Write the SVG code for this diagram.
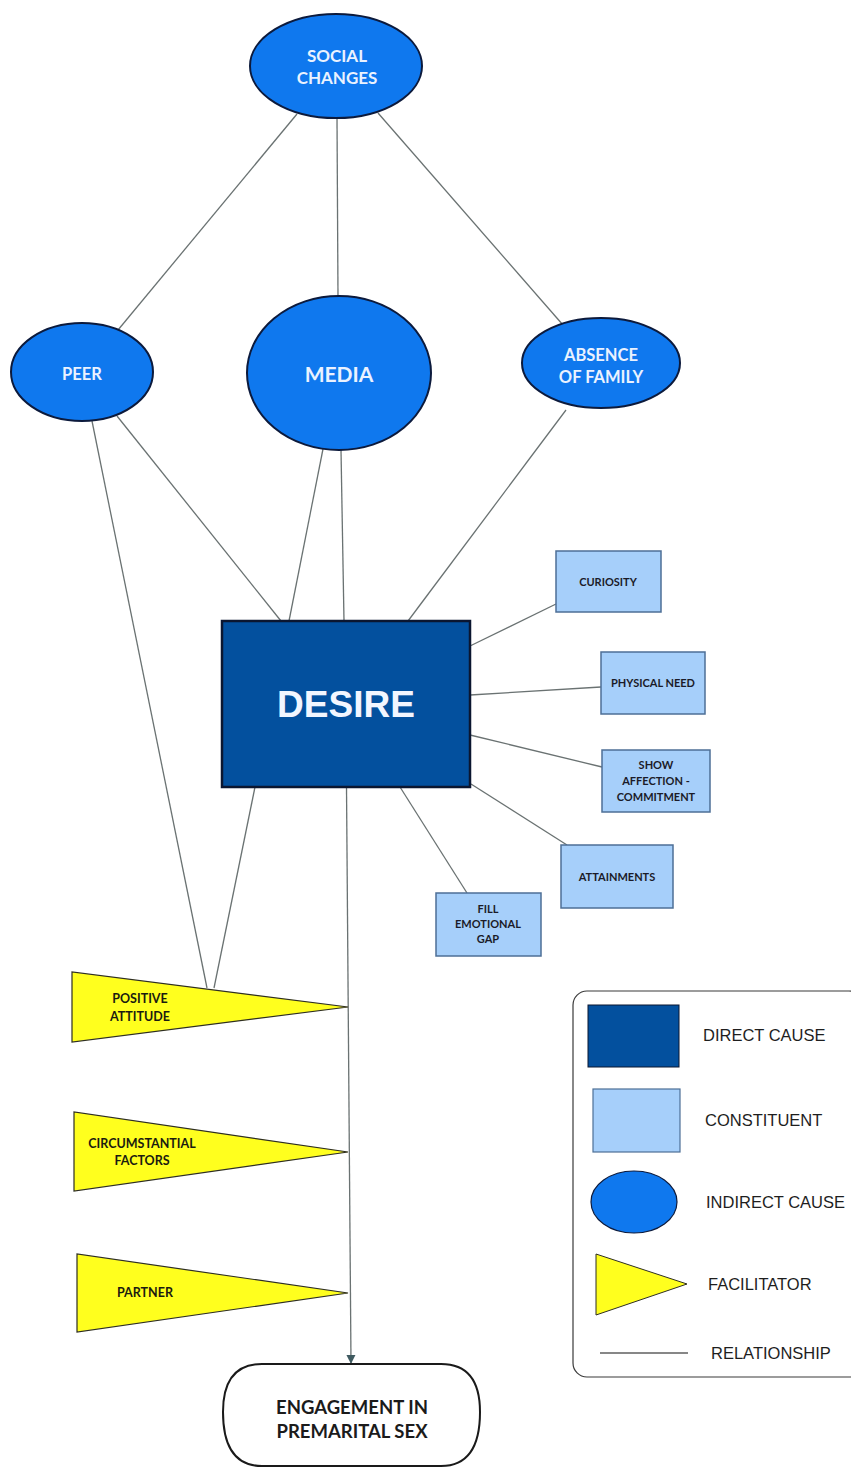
<svg xmlns="http://www.w3.org/2000/svg" width="851" height="1468" viewBox="0 0 851 1468">
<style>
.ell{fill:#0F78EE;stroke:#0c1a3c;stroke-width:2}
.con{fill:#A6CFFA;stroke:#4d6f96;stroke-width:1.5}
.fac{fill:#FFFF1E;stroke:#2e2e22;stroke-width:1.2}
.el{font-family:Lato,"Liberation Sans",sans-serif;font-weight:bold;fill:#eaf2ff;text-anchor:middle}
.ct{font-family:Lato,"Liberation Sans",sans-serif;font-weight:bold;fill:#1b1b28;text-anchor:middle;font-size:11px}
.ft{font-family:Lato,"Liberation Sans",sans-serif;font-weight:bold;fill:#1b1b10;text-anchor:middle;font-size:12.5px}
.lg{font-family:"Liberation Sans",Arial,sans-serif;fill:#1e1e1e;font-size:16.5px}
.ln{stroke:#6a7272;stroke-width:1.3;fill:none}
</style>
<defs>
<marker id="arr" markerWidth="10" markerHeight="10" refX="9" refY="5" orient="auto" markerUnits="userSpaceOnUse">
<path d="M0,0.5 L9,5 L0,9.5 Z" fill="#3f5a60"/>
</marker>
</defs>
<rect width="851" height="1468" fill="#ffffff"/>
<g id="connectors">
<line class="ln" x1="297" y1="114" x2="118" y2="330"/>
<line class="ln" x1="337" y1="118" x2="338" y2="297"/>
<line class="ln" x1="378" y1="113" x2="563" y2="325"/>
<line class="ln" x1="117" y1="416" x2="281" y2="621"/>
<line class="ln" x1="92" y1="421" x2="207" y2="988"/>
<line class="ln" x1="323" y1="449" x2="289" y2="621"/>
<line class="ln" x1="341" y1="450" x2="344" y2="621"/>
<line class="ln" x1="566" y1="410" x2="408" y2="621"/>
<line class="ln" x1="255" y1="787" x2="214" y2="988"/>
<line class="ln" x1="470" y1="646" x2="556" y2="604"/>
<line class="ln" x1="470" y1="695" x2="601" y2="687"/>
<line class="ln" x1="470" y1="735" x2="602" y2="767"/>
<line class="ln" x1="471" y1="784" x2="567" y2="845"/>
<line class="ln" x1="400" y1="787" x2="467" y2="893"/>
<line class="ln" x1="346.5" y1="787" x2="351" y2="1364" marker-end="url(#arr)"/>
</g>
<g id="social-changes">
<ellipse class="ell" cx="336" cy="66" rx="86" ry="52"/>
<text class="el" x="337" y="62" font-size="17">SOCIAL</text>
<text class="el" x="337" y="84" font-size="17">CHANGES</text>
</g>
<g id="peer">
<ellipse class="ell" cx="82" cy="372" rx="71" ry="49"/>
<text class="el" x="82" y="380" font-size="16.5">PEER</text>
</g>
<g id="media">
<ellipse class="ell" cx="339" cy="373" rx="92" ry="77"/>
<text class="el" x="339" y="382" font-size="21">MEDIA</text>
</g>
<g id="absence-of-family">
<ellipse class="ell" cx="601" cy="363" rx="79" ry="45"/>
<text class="el" x="601" y="361" font-size="16.5">ABSENCE</text>
<text class="el" x="601" y="383" font-size="16.5">OF FAMILY</text>
</g>
<g id="desire">
<rect x="222" y="621" width="248" height="166" fill="#03509E" stroke="#0b1630" stroke-width="2.5"/>
<text x="346" y="717" font-family="'Liberation Sans',Arial,sans-serif" font-weight="bold" font-size="37" fill="#f2f6ff" text-anchor="middle">DESIRE</text>
</g>
<g id="curiosity">
<rect class="con" x="556" y="551" width="105" height="61"/>
<text class="ct" x="608" y="586">CURIOSITY</text>
</g>
<g id="physical-need">
<rect class="con" x="601" y="652" width="104" height="62"/>
<text class="ct" x="653" y="687">PHYSICAL NEED</text>
</g>
<g id="show-affection">
<rect class="con" x="602" y="750" width="108" height="62"/>
<text class="ct" x="656" y="769">SHOW</text>
<text class="ct" x="656" y="785">AFFECTION -</text>
<text class="ct" x="656" y="801">COMMITMENT</text>
</g>
<g id="attainments">
<rect class="con" x="561" y="845" width="112" height="63"/>
<text class="ct" x="617" y="881">ATTAINMENTS</text>
</g>
<g id="fill-emotional-gap">
<rect class="con" x="436" y="893" width="105" height="63"/>
<text class="ct" x="488" y="913">FILL</text>
<text class="ct" x="488" y="928">EMOTIONAL</text>
<text class="ct" x="488" y="943">GAP</text>
</g>
<g id="positive-attitude">
<polygon class="fac" points="72,972 72,1042 348,1007"/>
<text class="ft" x="140" y="1003">POSITIVE</text>
<text class="ft" x="140" y="1021">ATTITUDE</text>
</g>
<g id="circumstantial-factors">
<polygon class="fac" points="74,1112 74,1191 348,1152"/>
<text class="ft" x="142" y="1148">CIRCUMSTANTIAL</text>
<text class="ft" x="142" y="1165">FACTORS</text>
</g>
<g id="partner">
<polygon class="fac" points="77,1254 77,1332 348,1293"/>
<text class="ft" x="145" y="1297">PARTNER</text>
</g>
<g id="engagement">
<path d="M262,1364 H441 Q480,1364 480,1412 Q480,1466 441,1466 H262 Q223,1466 223,1412 Q223,1364 262,1364 Z" fill="#ffffff" stroke="#1a1a1a" stroke-width="2"/>
<text x="352" y="1414" font-family="Lato,'Liberation Sans',sans-serif" font-weight="bold" font-size="18.5" fill="#1b1b1b" text-anchor="middle">ENGAGEMENT IN</text>
<text x="352" y="1438" font-family="Lato,'Liberation Sans',sans-serif" font-weight="bold" font-size="18.5" fill="#1b1b1b" text-anchor="middle">PREMARITAL SEX</text>
</g>
<g id="legend">
<rect x="573" y="991" width="290" height="386" rx="14" fill="#ffffff" stroke="#3a3a3a" stroke-width="1.2"/>
<rect x="588" y="1005" width="91" height="62" fill="#03509E" stroke="#0b1630" stroke-width="1"/>
<text class="lg" x="703" y="1041">DIRECT CAUSE</text>
<rect x="593" y="1089" width="87" height="63" fill="#A6CFFA" stroke="#4d6f96" stroke-width="1.2"/>
<text class="lg" x="705" y="1126">CONSTITUENT</text>
<ellipse cx="634" cy="1202" rx="43" ry="31" fill="#0F78EE" stroke="#0c1a3c" stroke-width="1.2"/>
<text class="lg" x="706" y="1208">INDIRECT CAUSE</text>
<polygon points="596,1254 596,1315 687,1284" fill="#FFFF1E" stroke="#2e2e22" stroke-width="1"/>
<text class="lg" x="708" y="1290">FACILITATOR</text>
<line x1="600" y1="1353" x2="688" y2="1353" stroke="#111" stroke-width="1.2"/>
<text class="lg" x="711" y="1359">RELATIONSHIP</text>
</g>
</svg>
